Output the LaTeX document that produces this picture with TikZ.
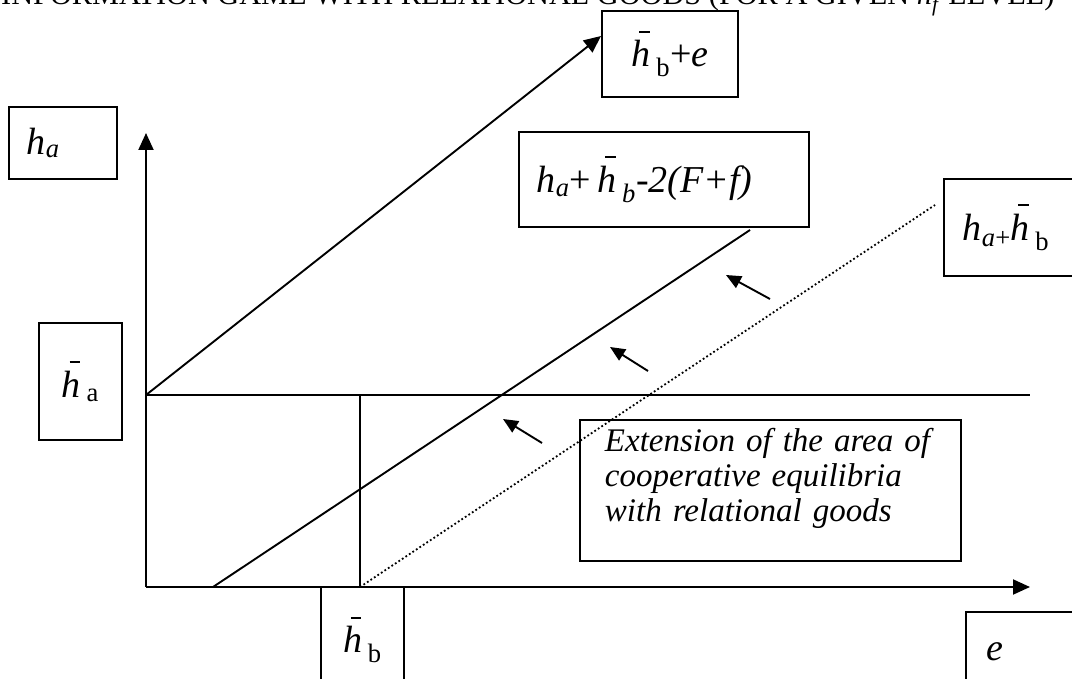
\documentclass[tikz,border=0pt]{standalone}
\usepackage{fontspec}
\setmainfont{Liberation Serif}
\usetikzlibrary{positioning,arrows.meta}
\newcommand{\barh}{\makebox[0pt][l]{\hspace{0.2em}\raisebox{0.9em}{\rule{0.28em}{0.045em}}}\textit{h}}
\newcommand{\lblsize}{\fontsize{38}{44}\selectfont}

\begin{document}
\begin{tikzpicture}[
    x=1pt, y=-1pt,
    box/.style={draw, line width=1.9pt, inner sep=0pt, align=center, font=\lblsize},
    lbox/.style={box, anchor=north west, align=left},
    axis/.style={-{Triangle[length=17pt,width=15pt]}, line width=2pt},
    curve/.style={line width=1.9pt},
    movearrow/.style={-{Triangle[length=15pt,width=13pt]}, line width=1.9pt},
    note/.style={font=\fontsize{30.3}{34}\selectfont, inner sep=0pt}
]
\path[use as bounding box] (0,0) rectangle (1072,679);

% title, cut at the top
\node[note, anchor=base west] (title) at (1,5)
    {INFORMATION GAME WITH RELATIONAL GOODS (FOR A GIVEN \textit{h}\textsubscript{\textit{f}} LEVEL)};

% axes
\coordinate (O) at (146,587);
\coordinate (ytip) at (146,133);
\coordinate (xtip) at (1030,587);
\coordinate (Ha) at (146,395);
\coordinate (Haend) at (1030,395);
\coordinate (Hb) at (360,587);
\coordinate (HbHa) at (360,395);
\draw[axis] (O) -- (ytip);
\draw[axis] (O) -- (xtip);
\draw[curve] (Ha) -- (Haend);
\draw[curve] (Hb) -- (HbHa);

% the three frontiers
\coordinate (topend) at (601,36);
\coordinate (solidstart) at (213,587);
\coordinate (solidend) at (750,230);
\coordinate (dotend) at (935,205);
\draw[axis, line width=1.9pt] (Ha) -- (topend);
\draw[curve] (solidstart) -- (solidend);
\draw[line width=1.8pt, dash pattern=on 1.8pt off 2.4pt] (Hb) -- (dotend);

% shift arrows
\coordinate (s1a) at (770,299);
\coordinate (s1b) at (726,275);
\coordinate (s2a) at (648,371);
\coordinate (s2b) at (610,347);
\coordinate (s3a) at (542,443);
\coordinate (s3b) at (503,419);
\draw[movearrow] (s1a) -- (s1b);
\draw[movearrow] (s2a) -- (s2b);
\draw[movearrow] (s3a) -- (s3b);

% labels
\node[lbox, text width=72pt, inner xsep=18pt, minimum height=72pt] (ha) at (8,106)
    {\textit{h}\textsubscript{\textit{a}}};
\node[box, minimum width=83pt, minimum height=117pt] (barha) at (80.5,381.5)
    {\barh\hspace{0.15em}\textsubscript{a}};
\node[box, minimum width=83pt, minimum height=106pt] (barhb) at (362.5,640)
    {\barh\hspace{0.15em}\textsubscript{b}};
\node[lbox, text width=100pt, inner xsep=21pt, minimum height=80pt] (e) at (965,611)
    {\textit{e}};
\node[box, minimum width=136pt, minimum height=86pt] (barhbe) at (670,54)
    {\barh\hspace{0.15em}\textsubscript{b}+\textit{e}};
\node[lbox, text width=254pt, inner xsep=18pt, minimum height=95pt] (frontier) at (518,131)
    {\textit{h}\textsubscript{\textit{a}}+\,\barh\hspace{0.15em}\textsubscript{\textit{b}}-\textit{2(F+f)}};
\node[lbox, text width=120pt, inner xsep=19pt, minimum height=97pt] (hahb) at (943,178)
    {\textit{h}\textsubscript{\textit{a}+}\barh\hspace{0.15em}\textsubscript{b}};
\node[lbox, text width=331pt, inner xsep=25pt, inner ysep=8pt,
      font=\fontsize{33}{35}\selectfont\itshape] (ext) at (579,419)
    {Extension of the area of\\cooperative equilibria\\with relational goods\rule[-32pt]{0pt}{32pt}};

\end{tikzpicture}
\end{document}
